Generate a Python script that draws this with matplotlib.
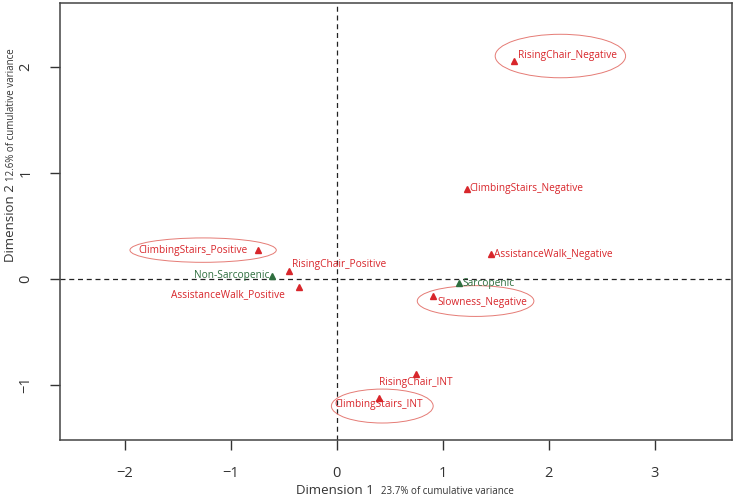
import numpy as np
import matplotlib
matplotlib.use('Agg')
import matplotlib.pyplot as plt
from matplotlib.patches import Ellipse

plt.rcParams['font.family'] = ['Open Sans', 'DejaVu Sans']

# MCA category coordinates
names = ['RisingChair_Negative', 'ClimbingStairs_Negative', 'AssistanceWalk_Negative',
         'Sarcopenic', 'Slowness_Negative', 'RisingChair_INT', 'ClimbingStairs_INT',
         'ClimbingStairs_Positive', 'Non-Sarcopenic', 'RisingChair_Positive',
         'AssistanceWalk_Positive']
dim1 = [1.67, 1.23, 1.46, 1.15, 0.91, 0.75, 0.40, -0.74, -0.61, -0.45, -0.36]
dim2 = [2.05, 0.85, 0.23, -0.04, -0.16, -0.90, -1.12, 0.27, 0.03, 0.07, -0.08]
is_group = [False, False, False, True, False, False, False, False, True, False, False]

# highlighted categories (ellipse centre x, y, width, height)
ell_x = [2.11, -1.26, 1.31, 0.43]
ell_y = [2.10, 0.27, -0.21, -1.20]
ell_w = [1.23, 1.38, 1.10, 0.96]
ell_h = [0.41, 0.23, 0.29, 0.32]

# label placement: (dx, dy in points, ha)
label_pos = {
    'RisingChair_Negative': (3, 4, 'left'),
    'ClimbingStairs_Negative': (2, 0, 'left'),
    'AssistanceWalk_Negative': (2, 0, 'left'),
    'Sarcopenic': (3, 0, 'left'),
    'Slowness_Negative': (3, -5, 'left'),
    'RisingChair_INT': (0, -6, 'center'),
    'ClimbingStairs_INT': (0, -5, 'center'),
    'ClimbingStairs_Positive': (-8, 0, 'right'),
    'Non-Sarcopenic': (-2, 0, 'right'),
    'RisingChair_Positive': (2, 5, 'left'),
    'AssistanceWalk_Positive': (-10, -5, 'right'),
}

red = '#d8262b'
green = '#2e6e3e'

fig = plt.figure(figsize=(7.37, 4.98), dpi=100)
ax = fig.add_axes([0.0814, 0.1165, 0.912, 0.8775])

ax.axvline(0, color='#222222', ls=(0, (4, 3)), lw=0.9, zorder=1)
ax.axhline(0, color='#222222', ls=(0, (4, 3)), lw=0.9, zorder=1)

for ex, ey, ew, eh in zip(ell_x, ell_y, ell_w, ell_h):
    ax.add_patch(Ellipse((ex, ey), ew, eh, fill=False, edgecolor='#e57b75', lw=0.7, zorder=2))

for n, x, y, g in zip(names, dim1, dim2, is_group):
    c = green if g else red
    ax.plot(x, y, marker='^', ms=4.5, color=c, ls='none', zorder=3)
    dx, dy, ha = label_pos[n]
    ax.annotate(n, (x, y), xytext=(dx, dy), textcoords='offset points',
                ha=ha, va='center', fontsize=7.3, color=c, zorder=4)

ax.set_xlim(-2.61, 3.73)
ax.set_ylim(-1.52, 2.60)
ax.set_xticks([-2, -1, 0, 1, 2, 3])
ax.set_yticks([-1, 0, 1, 2])
ax.set_xticklabels(['\u22122', '\u22121', '0', '1', '2', '3'])
ax.set_yticklabels(['\u22121', '0', '1', '2'], rotation=90, va='center')
ax.tick_params(direction='out', length=7, width=1, colors='#333333', labelsize=10.5, pad=12)
for s in ax.spines.values():
    s.set_color('#444444')
    s.set_linewidth(1.1)

fig.text(0.455, 0.008, 'Dimension 1', ha='center', va='baseline', fontsize=9.5, color='#333333')
fig.text(0.517, 0.008, '23.7% of cumulative variance', ha='left', va='baseline', fontsize=7, color='#333333')
fig.text(0.006, 0.553, 'Dimension 2', ha='left', va='center', rotation=90, fontsize=9.5, color='#333333')
fig.text(0.008, 0.77, '12.6% of cumulative variance', ha='left', va='center', rotation=90, fontsize=7, color='#333333')

fig.savefig('out.png', dpi=100)
